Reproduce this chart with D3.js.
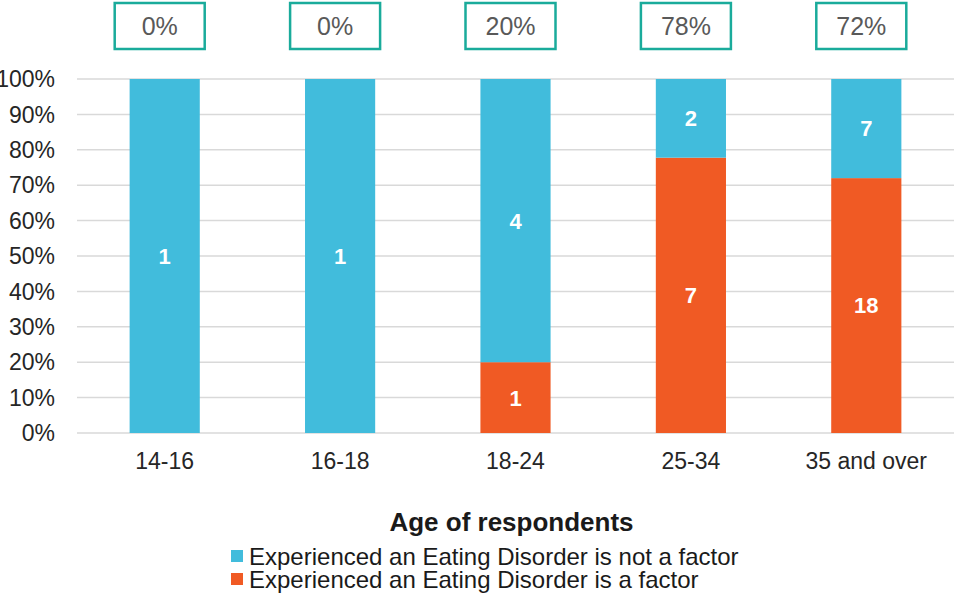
<!DOCTYPE html>
<html>
<head>
<meta charset="utf-8">
<script src="https://cdn.jsdelivr.net/npm/d3@7"></script>
<style>
  html, body { margin: 0; padding: 0; background: #fff; }
  svg { display: block; font-family: "Liberation Sans", Arial, sans-serif; }
</style>
</head>
<body>
<svg id="chart" width="954" height="598"></svg>
<script>
// Respondent counts per age group
const ageGroups = ["14-16", "16-18", "18-24", "25-34", "35 and over"];
const notFactorCounts = [1, 1, 4, 2, 7];
const factorCounts = [0, 0, 1, 7, 18];
const factorShareLabels = ["0%", "0%", "20%", "78%", "72%"];
const yTickValues = [0, 0.1, 0.2, 0.3, 0.4, 0.5, 0.6, 0.7, 0.8, 0.9, 1.0];
const seriesNames = [
  "Experienced an Eating Disorder is not a factor",
  "Experienced an Eating Disorder is a factor"
];
const seriesColors = ["#41bcdc", "#f05a24"];

const svg = d3.select("#chart");
const plot = { left: 77, right: 954, top: 79, bottom: 433 };

const x = d3.scaleBand().domain(ageGroups).range([plot.left, plot.right]).paddingInner(0.6).paddingOuter(0.3);
const y = d3.scaleLinear().domain([0, 1]).range([plot.bottom, plot.top]);

// Build stacked shares: factor at the bottom, not-a-factor on top
const rows = ageGroups.map((g, i) => {
  const total = notFactorCounts[i] + factorCounts[i];
  return { group: g, factor: factorCounts[i] / total, notFactor: notFactorCounts[i] / total,
           factorN: factorCounts[i], notFactorN: notFactorCounts[i] };
});
const stack = d3.stack().keys(["factor", "notFactor"]);
const layers = stack(rows);
const layerColor = { factor: seriesColors[1], notFactor: seriesColors[0] };
const layerCount = { factor: "factorN", notFactor: "notFactorN" };

// Gridlines
svg.append("g").selectAll("line").data(yTickValues).join("line")
  .attr("x1", plot.left).attr("x2", plot.right)
  .attr("y1", d => y(d)).attr("y2", d => y(d))
  .attr("stroke", "#d9d9d9").attr("stroke-width", 1.5);

// Y axis labels
svg.append("g").selectAll("text").data(yTickValues).join("text")
  .attr("x", 55).attr("y", d => y(d)).attr("dy", "0.36em")
  .attr("text-anchor", "end").attr("font-size", 23).attr("fill", "#262626")
  .text(d => d3.format(".0%")(d));

// Bars
layers.forEach(layer => {
  const g = svg.append("g");
  g.selectAll("rect").data(layer).join("rect")
    .attr("x", d => x(d.data.group))
    .attr("width", x.bandwidth())
    .attr("y", d => y(d[1]))
    .attr("height", d => y(d[0]) - y(d[1]))
    .attr("fill", layerColor[layer.key]);
  g.selectAll("text").data(layer.filter(d => d.data[layerCount[layer.key]] > 0)).join("text")
    .attr("x", d => x(d.data.group) + x.bandwidth() / 2)
    .attr("y", d => y((d[0] + d[1]) / 2)).attr("dy", "0.36em")
    .attr("text-anchor", "middle").attr("font-size", 22).attr("font-weight", "bold")
    .attr("fill", "#fff")
    .text(d => d.data[layerCount[layer.key]]);
});

// X axis labels
svg.append("g").selectAll("text").data(ageGroups).join("text")
  .attr("x", d => x(d) + x.bandwidth() / 2).attr("y", 461).attr("dy", "0.36em")
  .attr("text-anchor", "middle").attr("font-size", 23).attr("fill", "#262626")
  .text(d => d);

// Share callout boxes above each bar
const boxW = 90, boxH = 46;
const boxes = svg.append("g").selectAll("g").data(ageGroups).join("g")
  .attr("transform", d => `translate(${x(d) + x.bandwidth() / 2 - 5},26)`);
boxes.append("rect")
  .attr("x", -boxW / 2).attr("y", -boxH / 2).attr("width", boxW).attr("height", boxH)
  .attr("fill", "#fff").attr("stroke", "#1aab9b").attr("stroke-width", 2.5);
boxes.append("text")
  .attr("text-anchor", "middle").attr("dy", "0.36em")
  .attr("font-size", 25).attr("fill", "#595959")
  .text((d, i) => factorShareLabels[i]);

// Axis title
svg.append("text")
  .attr("x", (plot.left + plot.right) / 2 - 4).attr("y", 522).attr("dy", "0.36em")
  .attr("text-anchor", "middle").attr("font-size", 26).attr("font-weight", "bold").attr("fill", "#1a1a1a")
  .text("Age of respondents");

// Legend
const legend = svg.append("g").selectAll("g").data(seriesNames).join("g")
  .attr("transform", (d, i) => `translate(231,${556 + i * 23})`);
legend.append("rect").attr("x", 0).attr("y", -6).attr("width", 12).attr("height", 12)
  .attr("fill", (d, i) => seriesColors[i]);
legend.append("text").attr("x", 18).attr("y", 0).attr("dy", "0.36em")
  .attr("font-size", 24).attr("fill", "#1a1a1a")
  .text(d => d);
</script>
</body>
</html>
